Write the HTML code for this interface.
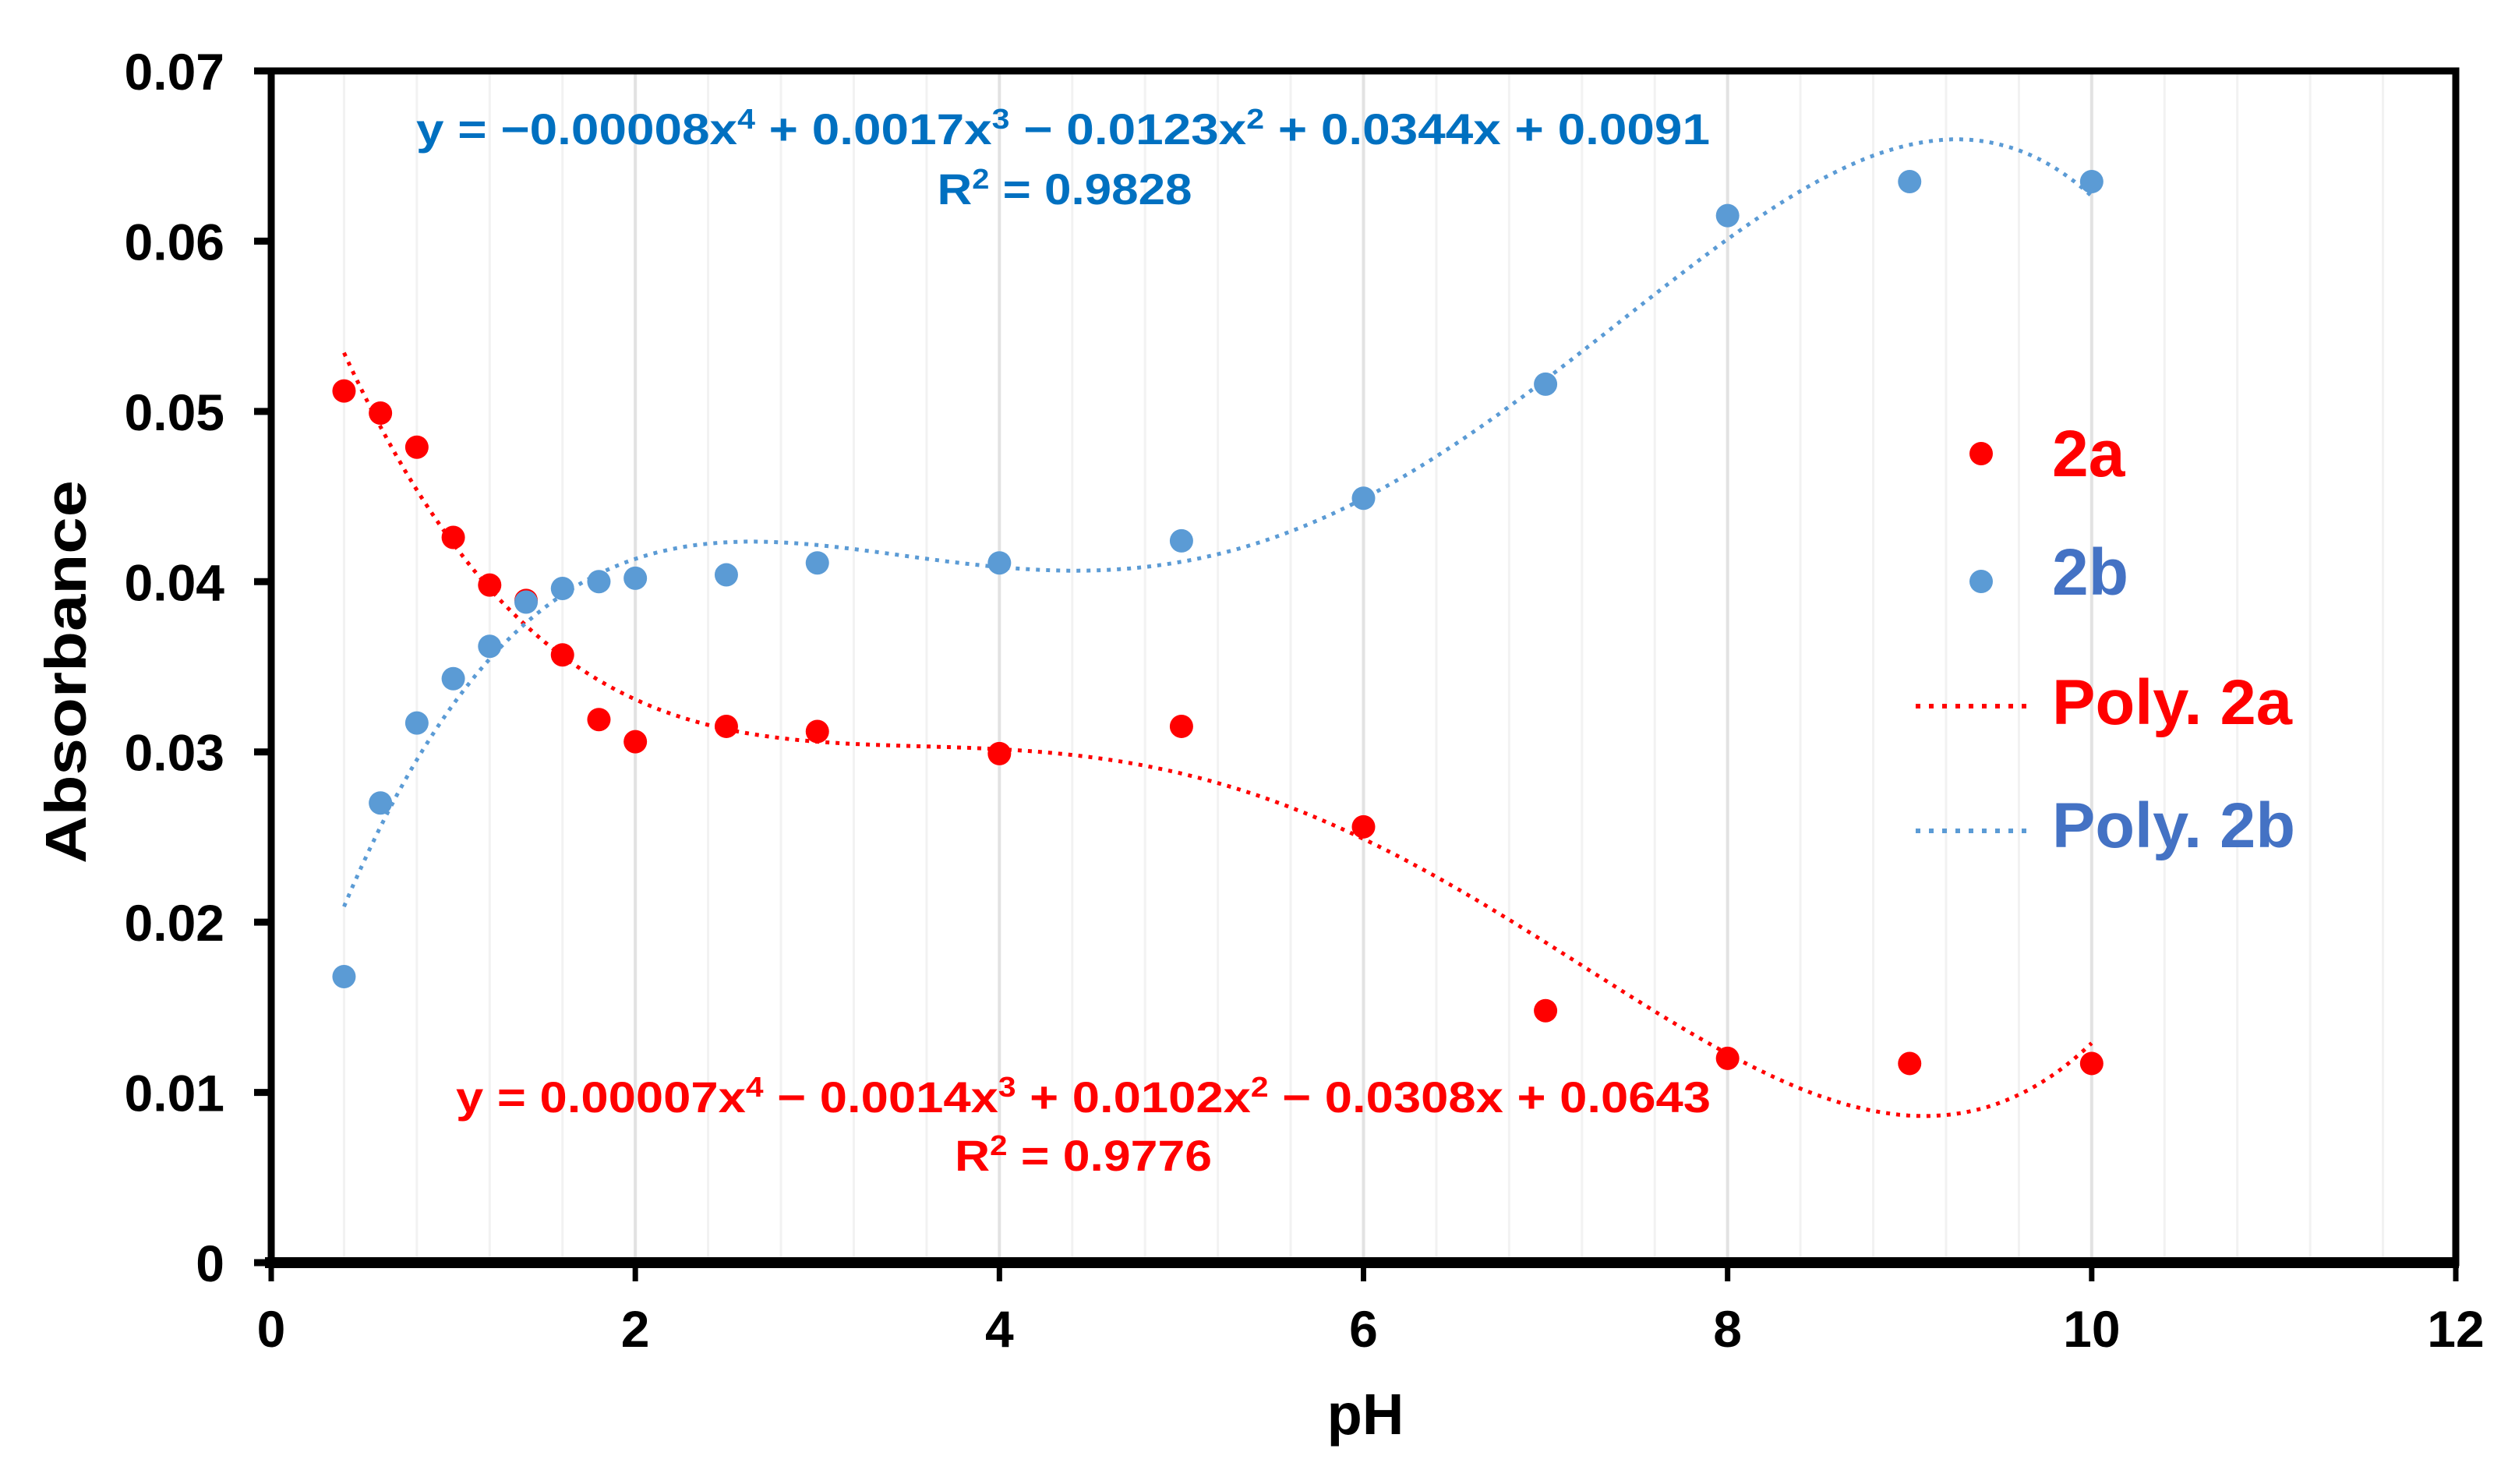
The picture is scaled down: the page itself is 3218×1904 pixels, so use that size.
<!DOCTYPE html>
<html><head><meta charset="utf-8"><style>
html,body{margin:0;padding:0;background:#fff}
svg{display:block}
text{font-family:"Liberation Sans",sans-serif;font-weight:bold}
</style></head><body>
<svg id="chart" width="3218" height="1904" viewBox="0 0 3218 1904" xmlns="http://www.w3.org/2000/svg">
<defs><clipPath id="plotclip"><rect x="348" y="91" width="2803" height="1529"/></clipPath></defs>
<g id="grid"></g>
<g id="fits" clip-path="url(#plotclip)"></g>
<g id="pts"></g>
<g id="axes"></g>
<g fill="#0070c0" font-size="56">
<text x="1364" y="185" text-anchor="middle" textLength="1660" lengthAdjust="spacingAndGlyphs">y = −0.00008x<tspan dy="-20" font-size="36">4</tspan><tspan dy="20"> + 0.0017x</tspan><tspan dy="-20" font-size="36">3</tspan><tspan dy="20"> − 0.0123x</tspan><tspan dy="-20" font-size="36">2</tspan><tspan dy="20">  + 0.0344x + 0.0091</tspan></text>
<text x="1366" y="262" text-anchor="middle" textLength="327" lengthAdjust="spacingAndGlyphs">R<tspan dy="-20" font-size="36">2</tspan><tspan dy="20"> = 0.9828</tspan></text>
</g>
<g fill="#ff0000" font-size="56">
<text x="1390" y="1427" text-anchor="middle" textLength="1610" lengthAdjust="spacingAndGlyphs">y = 0.00007x<tspan dy="-20" font-size="36">4</tspan><tspan dy="20"> − 0.0014x</tspan><tspan dy="-20" font-size="36">3</tspan><tspan dy="20"> + 0.0102x</tspan><tspan dy="-20" font-size="36">2</tspan><tspan dy="20"> − 0.0308x + 0.0643</tspan></text>
<text x="1390" y="1502" text-anchor="middle" textLength="330" lengthAdjust="spacingAndGlyphs">R<tspan dy="-20" font-size="36">2</tspan><tspan dy="20"> = 0.9776</tspan></text>
</g>
<g>
<circle cx="2542" cy="582" r="15" fill="#ff0000"/>
<text x="2633" y="611" font-size="84" fill="#ff0000">2a</text>
<circle cx="2542" cy="746" r="15" fill="#5b9bd5"/>
<text x="2633" y="763" font-size="84" fill="#4472c4">2b</text>
<line x1="2458" y1="906" x2="2610" y2="906" stroke="#ff0000" stroke-width="6" stroke-dasharray="6,11"/>
<text x="2633" y="929" font-size="82" fill="#ff0000" textLength="308" lengthAdjust="spacingAndGlyphs">Poly. 2a</text>
<line x1="2458" y1="1066" x2="2610" y2="1066" stroke="#5b9bd5" stroke-width="6" stroke-dasharray="6,11"/>
<text x="2633" y="1087" font-size="82" fill="#4472c4" textLength="312" lengthAdjust="spacingAndGlyphs">Poly. 2b</text>
</g>
<text x="1752" y="1840" font-size="74" text-anchor="middle">pH</text>
<text transform="translate(110,862) rotate(-90)" font-size="74" text-anchor="middle" textLength="492" lengthAdjust="spacingAndGlyphs">Absorbance</text>
</svg>
<script>
const xTicks = [0,2,4,6,8,10,12];
const yTicks = [0,0.01,0.02,0.03,0.04,0.05,0.06,0.07];
const yTickLabels = ["0","0.01","0.02","0.03","0.04","0.05","0.06","0.07"];
const phValues = [0.4,0.6,0.8,1.0,1.2,1.4,1.6,1.8,2.0,2.5,3,4,5,6,7,8,9,10];
const abs2a = [0.0512,0.0499,0.0479,0.0426,0.0398,0.0389,0.0357,0.0319,0.0306,0.0315,0.0312,0.0299,0.0315,0.0256,0.0148,0.0120,0.0117,0.0117];
const abs2b = [0.0168,0.0270,0.0317,0.0343,0.0362,0.0388,0.0396,0.0400,0.0402,0.0404,0.0411,0.0411,0.0424,0.0449,0.0516,0.0615,0.0635,0.0635];
const fitDegree = 4;

const NS="http://www.w3.org/2000/svg";
const X0=348,X1=3151,Y0=1620,Y1=91;
const xs=v=>X0+(v-0)/(12-0)*(X1-X0);
const ys=v=>Y0-(v-0)/(0.07-0)*(Y0-Y1);
function mk(tag,attrs,parent){const e=document.createElementNS(NS,tag);for(const k in attrs)e.setAttribute(k,attrs[k]);parent.appendChild(e);return e;}
const grid=document.getElementById('grid'),axes=document.getElementById('axes'),pts=document.getElementById('pts'),fits=document.getElementById('fits');
for(let v=0.4;v<12-0.01;v+=0.4){
  const major=Math.abs(v/2-Math.round(v/2))<0.01;
  const l=mk('line',{x1:xs(v),x2:xs(v),y1:Y1,y2:Y0,stroke:major?'#e2e2e2':'#f2f2f2','stroke-width':major?4:3},grid);
  
  
}
function polyfit(xv,yv,deg){
  const n=deg+1,A=[];for(let i=0;i<n;i++){A.push(new Array(n+1).fill(0));}
  const s=10;
  xv.forEach((x0,k)=>{const x=x0/s;for(let i=0;i<n;i++){for(let j=0;j<n;j++)A[i][j]+=Math.pow(x,i+j);A[i][n]+=Math.pow(x,i)*yv[k];}});
  for(let c=0;c<n;c++){let p=c;for(let r=c+1;r<n;r++)if(Math.abs(A[r][c])>Math.abs(A[p][c]))p=r;[A[c],A[p]]=[A[p],A[c]];
    for(let r=0;r<n;r++){if(r===c)continue;const f=A[r][c]/A[c][c];for(let j=c;j<=n;j++)A[r][j]-=f*A[c][j];}}
  const co=A.map((row,i)=>row[n]/row[i]);
  return x=>{let t=0;for(let i=0;i<n;i++)t+=co[i]*Math.pow(x/s,i);return t;};
}
[[abs2a,'#ff0000','trendline-2a'],[abs2b,'#5b9bd5','trendline-2b']].forEach(([ys_,col,name])=>{
  const f=polyfit(phValues,ys_,fitDegree);
  const lo=Math.min(...phValues),hi=Math.max(...phValues);
  let d='';for(let i=0;i<=200;i++){const x=lo+(hi-lo)*i/200;d+=(i?'L':'M')+xs(x).toFixed(1)+','+ys(f(x)).toFixed(1);}
  const p=mk('path',{d:d,fill:'none',stroke:col,'stroke-width':5,'stroke-dasharray':'5,8'},fits);
  
  
});
phValues.forEach((x,i)=>{
  const a=mk('circle',{cx:xs(x),cy:ys(abs2a[i]),r:15,fill:'#ff0000'},pts);
  
  
  const b=mk('circle',{cx:xs(x),cy:ys(abs2b[i]),r:15,fill:'#5b9bd5'},pts);
  
  
});
const frame=mk('rect',{x:X0,y:Y1,width:X1-X0,height:Y0-Y1,fill:'none',stroke:'#000','stroke-width':9},axes);


const xa=mk('line',{x1:X0-8,x2:X1+4,y1:Y0,y2:Y0,stroke:'#000','stroke-width':14},axes);


xTicks.forEach(v=>{
  const t=mk('line',{x1:xs(v),x2:xs(v),y1:Y0,y2:Y0+24,stroke:'#000','stroke-width':7},axes);
  
  
  const tx=mk('text',{x:xs(v),y:1728,'font-size':66,'text-anchor':'middle'},axes);
  tx.textContent=String(v);
  
  
});
yTicks.forEach((v,i)=>{
  const t=mk('line',{x1:X0-22,x2:X0,y1:ys(v),y2:ys(v),stroke:'#000','stroke-width':9},axes);
  
  
  const tx=mk('text',{x:288,y:ys(v)+24,'font-size':66,'text-anchor':'end'},axes);
  tx.textContent=yTickLabels[i];
  
  
});
</script>
</body></html>
